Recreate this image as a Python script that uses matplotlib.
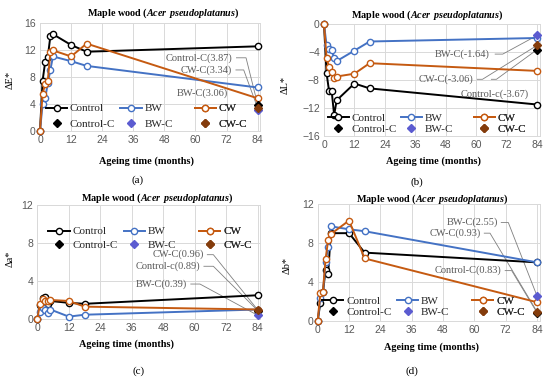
import numpy as np
import matplotlib
matplotlib.use("Agg")
import matplotlib.pyplot as plt
from matplotlib.lines import Line2D

plt.rcParams['mathtext.fontset'] = 'custom'
plt.rcParams['mathtext.rm'] = 'Liberation Serif'
plt.rcParams['mathtext.bfit'] = 'Liberation Serif:italic:bold'

# ageing time (months)
months = [0, 1, 2, 3, 4, 5, 12, 18, 84]

# (a) delta E*
dE_control = [0, 7.4, 10.2, 10.9, 14.0, 14.3, 12.7, 11.7, 12.5]
dE_bw = [0, 3.9, 4.8, 7.0, 9.0, 11.0, 10.3, 9.6, 6.4]
dE_cw = [0, 5.5, 6.9, 7.4, 11.6, 11.9, 11.0, 12.9, 4.8]
dE_c = [3.87, 3.06, 3.34]          # Control-C, BW-C, CW-C

# (b) delta L*
dL_control = [0, -7.0, -9.6, -9.5, -13.0, -10.9, -8.5, -9.2, -11.5]
dL_bw = [0, -3.0, -3.5, -3.7, -4.9, -5.3, -3.8, -2.5, -2.0]
dL_cw = [0, -4.8, -6.2, -6.9, -7.7, -7.5, -7.1, -5.6, -6.7]
dL_c = [-3.67, -1.64, -3.06]

# (c) delta a*
da_control = [0, 1.5, 2.2, 2.3, 1.6, 1.9, 1.7, 1.6, 2.5]
da_bw = [0, 0.7, 1.2, 1.0, 0.6, 1.0, 0.25, 0.45, 1.0]
da_cw = [0, 1.6, 2.1, 1.9, 1.9, 2.0, 1.9, 1.3, 1.0]
da_c = [0.89, 0.39, 0.96]

# (d) delta b*
db_control = [0, 1.8, 2.9, 5.2, 4.8, 9.0, 9.0, 7.0, 6.0]
db_bw = [0, 2.3, 2.9, 6.0, 7.6, 9.7, 9.4, 9.2, 6.0]
db_cw = [0, 2.8, 3.0, 6.3, 8.3, 8.9, 10.3, 6.4, 1.9]
db_c = [0.83, 2.55, 0.93]

c_labels = ["Control-C", "BW-C", "CW-C"]
col_line = ["#000000", "#4472C4", "#C55A11"]
col_dia = ["#000000", "#5B5BD0", "#843C0C"]
gray = "#595959"

W, H = 550, 378
fig = plt.figure(figsize=(5.5, 3.78), dpi=100)


def px_axes(x0, x84, ytop, ybot):
    # axes from pixel positions of x=0, x=84, top and bottom
    ppm = (x84 - x0) / 84.0
    right = x84 + ppm * 1.0
    return fig.add_axes([x0 / W, (H - ybot) / H, (right - x0) / W, (ybot - ytop) / H])


def panel(ax, series, cvals, ylim, yticks, ylab, leg_xy, lspace, anns, title_xy, xlab_xy,
          tag_xy, tag, ylab_xy):
    for y, c, lab in zip(series, col_line, ["Control", "BW", "CW"]):
        ax.plot(months, y, color=c, lw=1.4, marker="o", ms=4.5, mfc="white",
                mec=c, mew=1.0, label=lab, clip_on=False, zorder=3)
    for v, c in zip(cvals, col_dia):
        ax.plot([months[-1]], [v], ls="none", marker="D", ms=4.5, color=c, clip_on=False, zorder=4)
    ax.set_xlim(0, 85)
    ax.set_ylim(*ylim)
    ax.set_xticks(np.arange(0, 85, 12))
    ax.set_yticks(yticks)
    ax.tick_params(length=0, labelsize=7.5, labelcolor=gray, pad=3)
    for lab in ax.get_xticklabels() + ax.get_yticklabels():
        lab.set_family("Liberation Sans")
    ax.grid(color="#d9d9d9", lw=0.7)
    ax.set_axisbelow(True)
    for s in ax.spines.values():
        s.set_color("#d9d9d9")
        s.set_linewidth(0.7)

    # legend: one small legend per column (Excel style, equal column widths)
    lines = ax.get_lines()
    lx, ly = leg_xy
    for i in range(3):
        h = [lines[i], Line2D([], [], ls="none", marker="D", ms=4.5, color=col_dia[i])]
        leg = ax.legend(h, [lines[i].get_label(), c_labels[i]], loc="upper left",
                        bbox_to_anchor=((lx + i * 0.338), ly), frameon=False,
                        handlelength=1.9, handletextpad=0.25, labelspacing=lspace,
                        borderpad=0, borderaxespad=0,
                        prop={"family": "Liberation Serif", "size": 8})
        for t in leg.get_texts():
            t.set_color("#262626")
        ax.add_artist(leg)

    # data labels of the -C points with leader lines
    for (i, tx, ty, stub) in anns:
        v = cvals[i]
        name = "Control-c" if (i == 0 and tag in "bc") else c_labels[i]
        ax.text(tx, ty, "%s(%.2f)" % (name, v), ha="right", va="center", fontsize=7.5,
                color=gray, family="Liberation Serif", zorder=5)
        if stub is not None:
            sx0, sx1 = stub
            ax.plot([sx0, sx1, months[-1]], [ty, ty, v], color="#7f7f7f", lw=0.6,
                    clip_on=False, zorder=2)

    fig.text(title_xy[0] / W, 1 - title_xy[1] / H,
             r"Maple wood ($\mathbfit{Acer\ pseudoplatanus}$)", ha="center", va="center",
             fontsize=7.3, fontweight="bold", family="Liberation Serif")
    fig.text(xlab_xy[0] / W, 1 - xlab_xy[1] / H, "Ageing time (months)", ha="center",
             va="center", fontsize=7.4, fontweight="bold", family="Liberation Serif")
    fig.text(tag_xy[0] / W, 1 - tag_xy[1] / H, "(%s)" % tag, ha="center", va="center",
             fontsize=8, family="Liberation Serif")
    fig.text(ylab_xy[0] / W, 1 - ylab_xy[1] / H, ylab, ha="center", va="center",
             rotation=90, fontsize=7.5, family="Liberation Serif")


axa = px_axes(40, 257.7, 22.7, 130.7)
panel(axa, [dE_control, dE_bw, dE_cw], dE_c, (0, 16), np.arange(0, 17, 4), "ΔE*",
      (0.027, 0.25), 0.55,
      [(0, 74.1, 10.8, (75.8, 79.5)), (2, 74.1, 9.0, (75.6, 78.6)), (1, 72.6, 5.6, None)],
      (163, 13.3), (146.7, 161), (138, 180), "a", (10, 80))

axb = px_axes(324, 537, 24, 136)
panel(axb, [dL_control, dL_bw, dL_cw], dL_c, (-16, 0), np.arange(-16, 1, 4), "ΔL*",
      (0.018, 0.2), 0.1,
      [(1, 65.5, -4.3, (67.5, 70.5)), (2, 58.9, -7.9, (60.5, 62.5)), (0, 80.8, -10.0, None)],
      (426.7, 15), (434, 160.7), (416.7, 181.7), "b", (285, 85))
axb.plot([66.0, 68.0, 84], [-7.9, -7.9, dL_c[0]], color="#7f7f7f", lw=0.6, zorder=2)

axc = px_axes(37.3, 257.7, 205, 319)
panel(axc, [da_control, da_bw, da_cw], da_c, (0, 12), np.arange(0, 13, 4), "Δa*",
      (0.05, 0.81), 0.32,
      [(2, 63.5, 6.77, (64.8, 67.1)), (0, 62.0, 5.55, (63.5, 67.1)), (1, 56.9, 3.68, (58.5, 62.0))],
      (156.7, 198.3), (126.7, 344), (138.3, 370.7), "c", (10, 259))

axd = px_axes(317.7, 537, 204, 320.7)
panel(axd, [db_control, db_bw, db_cw], db_c, (0, 12), np.arange(0, 13, 4), "Δb*",
      (0.02, 0.21), 0.1,
      [(1, 69.0, 10.1, (70.3, 73.0)), (2, 62.5, 9.0, (63.8, 66.0)), (0, 70.5, 5.15, (71.8, 74.3))],
      (431.7, 199), (432, 346.7), (411.7, 370.7), "d", (286.7, 265.7))

fig.savefig("out.png", dpi=100)
